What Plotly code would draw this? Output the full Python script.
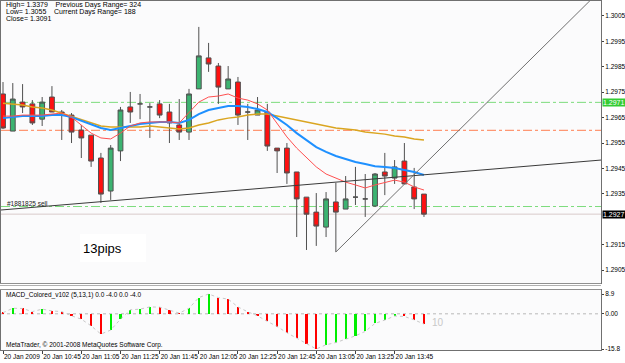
import plotly.graph_objects as go

# ---------------- data ----------------
TIME_LABEL_BARS = [0, 4, 8, 12, 16, 20, 24, 28, 32, 36, 40]
TIME_LABELS = ["20 Jan 2009", "20 Jan 10:45", "20 Jan 11:05", "20 Jan 11:25", "20 Jan 11:45",
               "20 Jan 12:05", "20 Jan 12:25", "20 Jan 12:45", "20 Jan 13:05", "20 Jan 13:25",
               "20 Jan 13:45"]

OPEN = [1.29743, 1.29597, 1.29711, 1.29704, 1.29644, 1.29731, 1.29672, 1.29660, 1.29601, 1.29581,
        1.29491, 1.29361, 1.29519, 1.29692, 1.29704, 1.29692, 1.29704, 1.29672, 1.29621, 1.29593,
        1.29763, 1.29885, 1.29853, 1.29763, 1.29790, 1.29672, 1.29660, 1.29672, 1.29530, 1.29530,
        1.29436, 1.29337, 1.29278, 1.29219, 1.29318, 1.29290, 1.29337, 1.29330, 1.29302, 1.29436,
        1.29412, 1.29479, 1.29377, 1.29349]
HIGH = [1.29790, 1.29786, 1.29782, 1.29719, 1.29731, 1.29774, 1.29680, 1.29668, 1.29621, 1.29581,
        1.29511, 1.29542, 1.29692, 1.29751, 1.29743, 1.29707, 1.29719, 1.29704, 1.29723, 1.29763,
        1.30007, 1.29944, 1.29865, 1.29853, 1.29810, 1.29704, 1.29731, 1.29704, 1.29530, 1.29550,
        1.29436, 1.29337, 1.29353, 1.29357, 1.29393, 1.29420, 1.29456, 1.29428, 1.29432, 1.29511,
        1.29483, 1.29550, 1.29452, 1.29349]
LOW = [1.29605, 1.29597, 1.29668, 1.29621, 1.29617, 1.29672, 1.29562, 1.29550, 1.29491, 1.29456,
       1.29314, 1.29326, 1.29479, 1.29629, 1.29644, 1.29570, 1.29648, 1.29550, 1.29562, 1.29562,
       1.29763, 1.29830, 1.29704, 1.29763, 1.29621, 1.29562, 1.29660, 1.29519, 1.29432, 1.29389,
       1.29180, 1.29129, 1.29145, 1.29180, 1.29121, 1.29290, 1.29306, 1.29259, 1.29298, 1.29345,
       1.29389, 1.29389, 1.29290, 1.29259]
CLOSE = [1.29609, 1.29723, 1.29692, 1.29629, 1.29711, 1.29672, 1.29668, 1.29593, 1.29570, 1.29479,
         1.29349, 1.29530, 1.29680, 1.29672, 1.29704, 1.29692, 1.29660, 1.29629, 1.29593, 1.29743,
         1.29893, 1.29861, 1.29770, 1.29802, 1.29660, 1.29672, 1.29680, 1.29538, 1.29519, 1.29432,
         1.29330, 1.29270, 1.29223, 1.29330, 1.29278, 1.29330, 1.29337, 1.29330, 1.29428, 1.29420,
         1.29456, 1.29389, 1.29330, 1.29270]

MA_FAST = [1.29656, 1.29656, 1.29660, 1.29660, 1.29660, 1.29664, 1.29668, 1.29652, 1.29621, 1.29589,
           1.29570, 1.29566, 1.29589, 1.29617, 1.29629, 1.29633, 1.29633, 1.29633, 1.29629, 1.29668,
           1.29711, 1.29731, 1.29735, 1.29743, 1.29727, 1.29719, 1.29704, 1.29680, 1.29629, 1.29574,
           1.29530, 1.29491, 1.29456, 1.29428, 1.29412, 1.29396, 1.29385, 1.29373, 1.29385, 1.29396,
           1.29404, 1.29396, 1.29377, 1.29365]
MA_MID = [1.29648, 1.29652, 1.29656, 1.29656, 1.29656, 1.29660, 1.29660, 1.29652, 1.29637, 1.29621,
          1.29609, 1.29601, 1.29609, 1.29617, 1.29625, 1.29629, 1.29633, 1.29633, 1.29629, 1.29641,
          1.29664, 1.29680, 1.29688, 1.29696, 1.29696, 1.29692, 1.29684, 1.29672, 1.29648, 1.29621,
          1.29589, 1.29562, 1.29534, 1.29515, 1.29499, 1.29487, 1.29475, 1.29467, 1.29459, 1.29456,
          1.29452, 1.29444, 1.29436, 1.29424]
MA_SLOW = [1.29707, 1.29704, 1.29700, 1.29692, 1.29688, 1.29680, 1.29668, 1.29656, 1.29641, 1.29629,
           1.29617, 1.29613, 1.29613, 1.29613, 1.29613, 1.29617, 1.29613, 1.29609, 1.29605, 1.29609,
           1.29621, 1.29629, 1.29641, 1.29648, 1.29652, 1.29660, 1.29664, 1.29664, 1.29656, 1.29648,
           1.29641, 1.29633, 1.29625, 1.29617, 1.29609, 1.29605, 1.29601, 1.29593, 1.29589, 1.29585,
           1.29578, 1.29574, 1.29566, 1.29562]

MACD = [0.5, 2.5, 2.4, 1.0, 2.1, 1.3, 1.0, -0.9, -2.4, -5.4,
        -9.1, -7.3, -2.4, 1.8, 2.1, 3.1, 3.0, 1.6, 0.3, 2.5,
        7.3, 8.9, 7.3, 6.6, 3.1, 0.9, -0.9, -3.4, -5.7, -8.5,
        -11.0, -13.5, -15.8, -13.9, -12.9, -11.4, -9.9, -7.9, -4.3, -2.8,
        -1.0, -1.2, -2.7, -4.6]
MACD_UP = [0, 1, 0, 0, 1, 0, 0, 0, 0, 0,
           0, 1, 1, 1, 1, 1, 0, 0, 0, 1,
           1, 1, 0, 0, 0, 0, 0, 0, 0, 0,
           0, 0, 0, 1, 1, 1, 1, 1, 1, 1,
           1, 0, 0, 0]

PRICE_TICKS = [1.2905, 1.2915, 1.2935, 1.2945, 1.2955, 1.2965, 1.2975, 1.2985, 1.2995, 1.3005]
MACD_TICKS = [8.9, 0.0, -15.8]
MACD_TICK_TEXT = ["8.9", "0.00", "-15.8"]

LEVEL_UPPER_GREEN = 1.2971
LEVEL_ORANGE = 1.2960
LEVEL_ORDER = 1.2930
LEVEL_BID = 1.2927

TREND1_X = [-0.3, 61.1]
TREND1_P = [1.29286, 1.29483]
TREND2_X = [34, 60.0]
TREND2_P = [1.29121, 1.30112]

INFO_LINES = ["High= 1.3379    Previous Days Range= 324",
              "Low= 1.3055    Current Days Range= 188",
              "Close= 1.3091"]

# ---------------- layout helpers ----------------
W, H = 625, 363
def px(x):
    return x / W
def py(y):
    return 1 - y / H

BARS = list(range(len(OPEN)))
FONT = "Liberation Sans, Arial, sans-serif"

fig = go.Figure()

fig.add_trace(go.Candlestick(
    x=BARS, open=OPEN, high=HIGH, low=LOW, close=CLOSE,
    increasing=dict(fillcolor="#3CB371", line=dict(color="#505050", width=1)),
    decreasing=dict(fillcolor="#FF1010", line=dict(color="#505050", width=1)),
    whiskerwidth=0, xaxis="x", yaxis="y", showlegend=False, hoverinfo="skip"))

fig.add_trace(go.Scatter(x=BARS, y=MA_SLOW, mode="lines", line=dict(color="#DAA520", width=1.5),
                         xaxis="x", yaxis="y", showlegend=False, hoverinfo="skip"))
fig.add_trace(go.Scatter(x=BARS, y=MA_MID, mode="lines", line=dict(color="#1E90FF", width=2),
                         xaxis="x", yaxis="y", showlegend=False, hoverinfo="skip"))
fig.add_trace(go.Scatter(x=BARS, y=MA_FAST, mode="lines", line=dict(color="#FF5050", width=1),
                         xaxis="x", yaxis="y", showlegend=False, hoverinfo="skip"))

fig.add_trace(go.Scatter(x=TREND1_X, y=TREND1_P, mode="lines", line=dict(color="#3A3A3A", width=1),
                         xaxis="x", yaxis="y", showlegend=False, hoverinfo="skip"))
fig.add_trace(go.Scatter(x=TREND2_X, y=TREND2_P, mode="lines", line=dict(color="#707070", width=1),
                         xaxis="x", yaxis="y", showlegend=False, hoverinfo="skip"))

# MACD panel
fig.add_trace(go.Bar(x=BARS, y=MACD, width=0.22,
                     marker=dict(color=["#00EE00" if u else "#FF0000" for u in MACD_UP], line=dict(width=0)),
                     xaxis="x2", yaxis="y2", showlegend=False, hoverinfo="skip"))
fig.add_trace(go.Scatter(x=BARS, y=MACD, mode="lines", line=dict(color="#C8C8C8", width=1, dash="dot"),
                         xaxis="x2", yaxis="y2", showlegend=False, hoverinfo="skip"))

XR = [(1 - 3) / 9.79, (601 - 3) / 9.79]
XDOM = [px(1), px(601)]

shapes = []
def hline(level, color, dash, width=1):
    shapes.append(dict(type="line", xref="paper", yref="y", x0=XDOM[0], x1=XDOM[1],
                       y0=level, y1=level, line=dict(color=color, width=width, dash=dash), layer="below"))
hline(LEVEL_UPPER_GREEN, "#7CDC7C", "dashdot")
hline(LEVEL_ORANGE, "#FF7F50", "dashdot")
hline(LEVEL_ORDER, "#7CDC7C", "dashdot")
hline(LEVEL_BID, "#D8CACA", "solid")
# MACD zero line
shapes.append(dict(type="line", xref="paper", yref="y2", x0=XDOM[0], x1=XDOM[1], y0=0, y1=0,
                   line=dict(color="#B8B8B8", width=1, dash="dot"), layer="below"))
# window separator
for yy, c in [(283.5, "#909090"), (285.5, "#B0B0B0"), (289.5, "#909090")]:
    shapes.append(dict(type="line", xref="paper", yref="paper", x0=px(0), x1=px(601),
                       y0=py(yy), y1=py(yy), line=dict(color=c, width=1)))
# 13pips white box
shapes.append(dict(type="rect", xref="paper", yref="paper", x0=px(80), x1=px(146), y0=py(262), y1=py(234),
                   fillcolor="#FFFFFF", line=dict(width=0), layer="below"))

ann = []
for i, t in enumerate(INFO_LINES):
    ann.append(dict(text=t, xref="paper", yref="paper", x=px(4), y=py(5 + 7 * i), xanchor="left",
                    yanchor="middle", showarrow=False, font=dict(family=FONT, size=7, color="#000000")))
ann.append(dict(text="#1881825 sell", xref="paper", yref="paper", x=px(5), y=py(203), xanchor="left",
                yanchor="middle", showarrow=False, font=dict(family=FONT, size=6.5, color="#202020")))
ann.append(dict(text="13pips", xref="paper", yref="paper", x=px(81), y=py(248), xanchor="left",
                yanchor="middle", showarrow=False, font=dict(family=FONT, size=13, color="#000000")))
ann.append(dict(text="MACD_Colored_v102 (5,13,1) 0.0 -4.0 0.0 -4.0", xref="paper", yref="paper",
                x=px(4), y=py(295), xanchor="left", yanchor="middle", showarrow=False,
                font=dict(family=FONT, size=6.5, color="#000000")))
ann.append(dict(text="MetaTrader, © 2001-2008 MetaQuotes Software Corp.", xref="paper", yref="paper",
                x=px(4), y=py(345), xanchor="left", yanchor="middle", showarrow=False,
                font=dict(family=FONT, size=6.5, color="#000000")))
ann.append(dict(text="10", xref="paper", yref="paper", x=px(430), y=py(322), xanchor="left",
                yanchor="middle", showarrow=False, font=dict(family=FONT, size=10, color="#C8C8C8")))
ann.append(dict(text="1.2971", xref="paper", yref="y", x=px(602), y=LEVEL_UPPER_GREEN, xanchor="left",
                yanchor="middle", showarrow=False, bgcolor="#33CC33", borderpad=0,
                font=dict(family=FONT, size=7, color="#FFFFFF")))
ann.append(dict(text="1.2927", xref="paper", yref="y", x=px(602), y=LEVEL_BID, xanchor="left",
                yanchor="middle", showarrow=False, bgcolor="#000000", borderpad=0,
                font=dict(family=FONT, size=7, color="#FFFFFF")))

fig.update_layout(
    width=W, height=H, margin=dict(l=0, r=0, t=0, b=0),
    paper_bgcolor="#FFFFFF", plot_bgcolor="#FBFBFC",
    bargap=0, shapes=shapes, annotations=ann,
    font=dict(family=FONT, size=7, color="#000000"),
    xaxis=dict(domain=XDOM, range=XR, anchor="y", showticklabels=False, ticks="",
               showgrid=False, zeroline=False, showline=True, mirror=True, linecolor="#707070",
               rangeslider=dict(visible=False), automargin=False),
    yaxis=dict(domain=[py(283), py(1)], range=[1.28999, 1.30109], anchor="x", side="right",
               tickvals=PRICE_TICKS, ticktext=[f"{v:.4f}" for v in PRICE_TICKS],
               ticks="outside", ticklen=2, tickcolor="#404040", showgrid=False, zeroline=False,
               showline=True, mirror=True, linecolor="#707070", automargin=False,
               tickfont=dict(family=FONT, size=6.5, color="#000000")),
    xaxis2=dict(domain=XDOM, range=XR, anchor="y2", tickvals=TIME_LABEL_BARS, ticktext=TIME_LABELS,
                ticks="outside", ticklen=3, tickcolor="#404040", ticklabelposition="outside right",
                tickangle=0, showgrid=False, zeroline=False, showline=True, mirror=True,
                linecolor="#707070", automargin=False, tickfont=dict(family=FONT, size=6.5, color="#000000")),
    yaxis2=dict(domain=[py(350), py(290)], range=[-16.25, 10.7], anchor="x2", side="right",
                tickvals=MACD_TICKS, ticktext=MACD_TICK_TEXT, ticks="outside", ticklen=2,
                tickcolor="#404040", showgrid=False, zeroline=False, showline=True, mirror=True,
                linecolor="#707070", automargin=False,
                tickfont=dict(family=FONT, size=6.5, color="#000000")),
)

fig.write_html("out.html")
